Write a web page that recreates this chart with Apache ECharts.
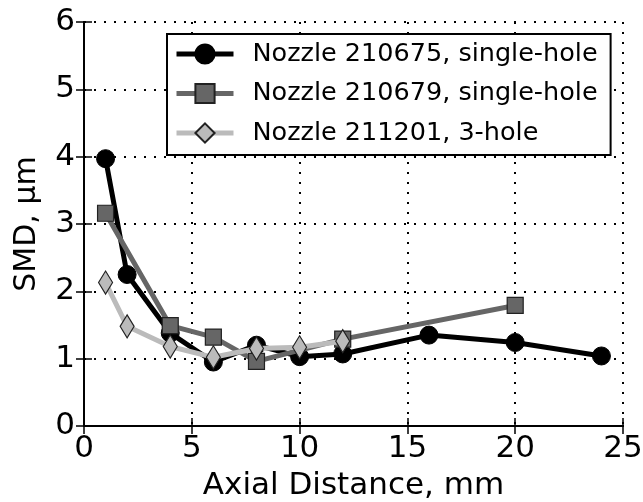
<!DOCTYPE html>
<html><head><meta charset="utf-8">
<script src="https://cdn.jsdelivr.net/npm/echarts@6/dist/echarts.min.js"></script>
<style>html,body{margin:0;padding:0;background:#fff}#c{width:643px;height:502px}</style>
</head><body><div id="c"></div>
<script>
const seriesNames = ['Nozzle 210675, single-hole','Nozzle 210679, single-hole','Nozzle 211201, 3-hole'];
const xA = [1,2,4,6,8,10,12,16,20,24];
const yA = [3.97,2.25,1.38,0.95,1.2,1.03,1.07,1.35,1.24,1.04];
const xB = [1,4,6,8,12,20];
const yB = [3.16,1.49,1.32,0.96,1.29,1.79];
const xC = [1,2,4,6,8,10,12];
const yC = [2.13,1.48,1.18,1.02,1.15,1.17,1.26];
const xTicks = [0,5,10,15,20,25];
const yTicks = [0,1,2,3,4,5,6];

const F = 'DejaVu Sans';
const chart = echarts.init(document.getElementById('c'));
const pair = (xs, ys) => xs.map((x,i)=>[x, ys[i]]);
const gridLine = {show:true, lineStyle:{color:'#000', type:[2,8], width:2}};
const tick = {show:true, inside:true, length:8, lineStyle:{color:'#000', width:1.5}};
chart.setOption({
  animation:false,
  grid:{left:84, right:20, top:22, bottom:76, containLabel:false, outerBoundsMode:'none'},
  legend:{
    orient:'vertical', left:167, top:34,
    backgroundColor:'#fff', borderColor:'#000', borderWidth:2,
    padding:[7,13,9,7], itemGap:13.5, itemWidth:57, itemHeight:24,
    lineStyle:{width:5},
    textStyle:{fontFamily:F, fontSize:25.5, color:'#000', padding:[0,0,0,14]},
    data:seriesNames
  },
  xAxis:[{
    type:'value', min:xTicks[0], max:xTicks[xTicks.length-1], interval:5,
    name:'Axial Distance, mm', nameLocation:'middle', nameGap:44,
    nameTextStyle:{fontFamily:F, fontSize:31, color:'#000'},
    axisLine:{show:true, onZero:false, lineStyle:{color:'#000', width:2}},
    axisTick:tick,
    axisLabel:{fontFamily:F, fontSize:31, color:'#000', margin:7},
    splitLine:gridLine
  },{
    type:'value', min:xTicks[0], max:xTicks[xTicks.length-1], interval:5, position:'top',
    axisLine:{show:true, lineStyle:{color:'#000', width:2}},
    axisTick:tick, axisLabel:{show:false}, splitLine:{show:false}
  }],
  yAxis:[{
    type:'value', min:yTicks[0], max:yTicks[yTicks.length-1], interval:1,
    name:'SMD, \u00b5m', nameLocation:'middle', nameGap:42,
    nameTextStyle:{fontFamily:F, fontSize:30, color:'#000'},
    axisLine:{show:true, onZero:false, lineStyle:{color:'#000', width:2}},
    axisTick:tick,
    axisLabel:{fontFamily:F, fontSize:31, color:'#000', margin:9},
    splitLine:gridLine
  },{
    type:'value', min:yTicks[0], max:yTicks[yTicks.length-1], interval:1, position:'right',
    axisLine:{show:true, lineStyle:{color:'#000', width:2}},
    axisTick:tick, axisLabel:{show:false}, splitLine:{show:false}
  }],
  series:[
    {name:seriesNames[0], type:'line', data:pair(xA,yA), symbol:'circle', symbolSize:18,
     lineStyle:{color:'#000', width:5}, itemStyle:{color:'#000', borderColor:'#000', borderWidth:1}, z:3},
    {name:seriesNames[1], type:'line', data:pair(xB,yB), symbol:'rect', symbolSize:16,
     lineStyle:{color:'#666', width:5}, itemStyle:{color:'#666', borderColor:'#222', borderWidth:1.2}, z:4},
    {name:seriesNames[2], type:'line', data:pair(xC,yC), symbol:'diamond', symbolSize:[14,23],
     lineStyle:{color:'#bbb', width:5}, itemStyle:{color:'#bbb', borderColor:'#222', borderWidth:1.2}, z:5}
  ]
});
</script></body></html>
